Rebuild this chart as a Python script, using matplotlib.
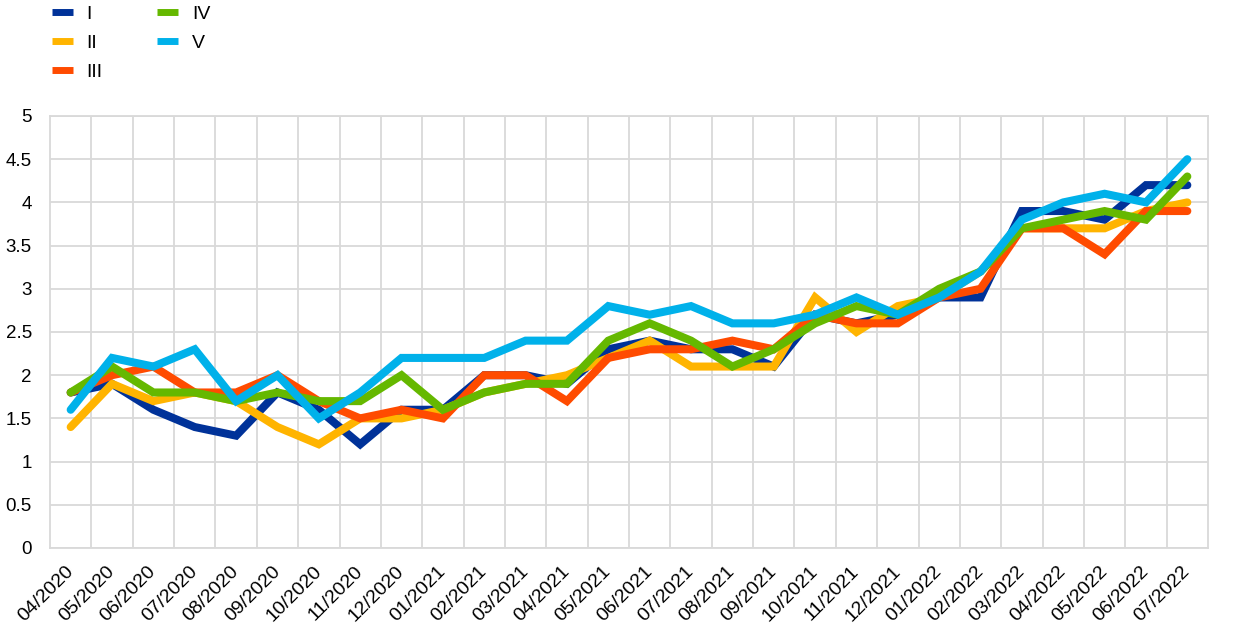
import numpy as np
import matplotlib
matplotlib.use("Agg")
import matplotlib.pyplot as plt
from matplotlib.lines import Line2D

months = ["04/2020", "05/2020", "06/2020", "07/2020", "08/2020", "09/2020", "10/2020",
          "11/2020", "12/2020", "01/2021", "02/2021", "03/2021", "04/2021", "05/2021",
          "06/2021", "07/2021", "08/2021", "09/2021", "10/2021", "11/2021", "12/2021",
          "01/2022", "02/2022", "03/2022", "04/2022", "05/2022", "06/2022", "07/2022"]

series_I = [1.8, 1.9, 1.6, 1.4, 1.3, 1.8, 1.6, 1.2, 1.6, 1.6, 2.0, 2.0, 1.9, 2.3,
            2.4, 2.3, 2.3, 2.1, 2.7, 2.6, 2.7, 2.9, 2.9, 3.9, 3.9, 3.8, 4.2, 4.2]
series_II = [1.4, 1.9, 1.7, 1.8, 1.7, 1.4, 1.2, 1.5, 1.5, 1.6, 1.8, 1.9, 2.0, 2.2,
             2.4, 2.1, 2.1, 2.1, 2.9, 2.5, 2.8, 2.9, 3.2, 3.7, 3.7, 3.7, 3.9, 4.0]
series_III = [1.8, 2.0, 2.1, 1.8, 1.8, 2.0, 1.7, 1.5, 1.6, 1.5, 2.0, 2.0, 1.7, 2.2,
              2.3, 2.3, 2.4, 2.3, 2.7, 2.6, 2.6, 2.9, 3.0, 3.7, 3.7, 3.4, 3.9, 3.9]
series_IV = [1.8, 2.1, 1.8, 1.8, 1.7, 1.8, 1.7, 1.7, 2.0, 1.6, 1.8, 1.9, 1.9, 2.4,
             2.6, 2.4, 2.1, 2.3, 2.6, 2.8, 2.7, 3.0, 3.2, 3.7, 3.8, 3.9, 3.8, 4.3]
series_V = [1.6, 2.2, 2.1, 2.3, 1.7, 2.0, 1.5, 1.8, 2.2, 2.2, 2.2, 2.4, 2.4, 2.8,
            2.7, 2.8, 2.6, 2.6, 2.7, 2.9, 2.7, 2.9, 3.2, 3.8, 4.0, 4.1, 4.0, 4.5]

labels = ["I", "II", "III", "IV", "V"]
colors = ["#003299", "#FFB400", "#FF4B00", "#65B800", "#00B1EA"]
yticks = [0, 0.5, 1, 1.5, 2, 2.5, 3, 3.5, 4, 4.5, 5]
ytick_labels = ["0", "0.5", "1", "1.5", "2", "2.5", "3", "3.5", "4", "4.5", "5"]

plt.rcParams['font.family'] = ['Liberation Sans', 'DejaVu Sans']

W, H = 1240, 637
fig = plt.figure(figsize=(W / 100, H / 100), dpi=100)
ax = fig.add_axes([50 / W, 1 - 548 / H, (1208 - 50) / W, (548 - 116) / H])

x = np.arange(len(months))
for vals, lab, col in zip([series_I, series_II, series_III, series_IV, series_V], labels, colors):
    ax.plot(x, vals, color=col, lw=5.8, label=lab, solid_capstyle='round', solid_joinstyle='miter')

ax.set_xlim(-0.5, len(months) - 0.5)
ax.set_ylim(0, 5)
ax.set_yticks(yticks)
ax.set_yticklabels(ytick_labels)
ax.set_xticks(x)
ax.set_xticklabels(months, rotation=45, ha='right', va='center', rotation_mode='anchor')
ax.set_xticks(np.arange(0.5, len(months) - 1, 1), minor=True)

gridc = "#d9d9d9"
ax.grid(True, which='major', axis='y', color=gridc, lw=1.3)
ax.grid(True, which='minor', axis='x', color=gridc, lw=1.3)
ax.set_axisbelow(True)
for s in ax.spines.values():
    s.set_color(gridc)
    s.set_linewidth(1.3)

ax.tick_params(axis='both', which='both', length=0, colors='black')
ax.tick_params(axis='y', pad=13, labelsize=13.5)
ax.tick_params(axis='x', pad=15, labelsize=14)

handles = [Line2D([0], [0], color=c, lw=5, solid_capstyle='butt') for c in colors]
fig.legend(handles, labels, loc='upper left', bbox_to_anchor=(52 / W, 1 - 5 / H), ncol=2,
           frameon=False, fontsize=14, handlelength=1.08, handletextpad=0.7,
           columnspacing=2.8, labelspacing=0.6, borderpad=0, borderaxespad=0)

fig.savefig("out.png", dpi=100)
